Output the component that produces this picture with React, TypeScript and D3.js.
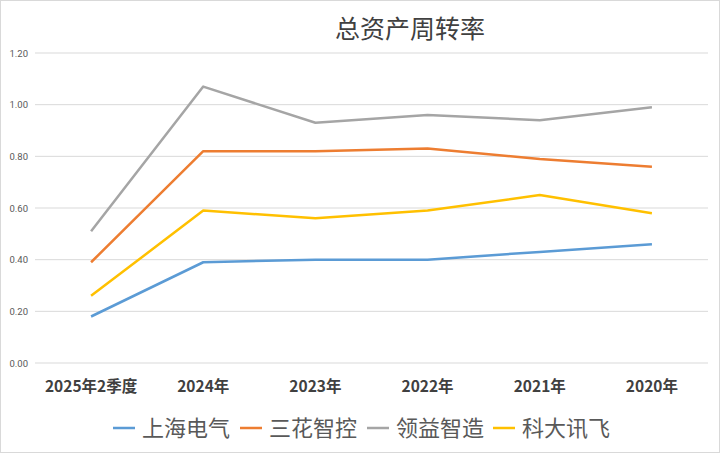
import React, { useEffect, useRef } from 'react';
import * as d3 from 'd3';

const categories = ['2025年2季度', '2024年', '2023年', '2022年', '2021年', '2020年'];
const seriesNames = ['上海电气', '三花智控', '领益智造', '科大讯飞'];
const shanghaiElectric = [0.18, 0.39, 0.40, 0.40, 0.43, 0.46];
const sanhua = [0.39, 0.82, 0.82, 0.83, 0.79, 0.76];
const lingyi = [0.51, 1.07, 0.93, 0.96, 0.94, 0.99];
const iflytek = [0.26, 0.59, 0.56, 0.59, 0.65, 0.58];
const yTicks = [0, 0.2, 0.4, 0.6, 0.8, 1.0, 1.2];
const colors = ['#5B9BD5', '#ED7D31', '#A5A5A5', '#FFC000'];

const W = 720;
const H = 453;

export default function App() {
  const svgRef = useRef<SVGSVGElement>(null);

  useEffect(() => {
    document.body.style.margin = '0';
    if (!svgRef.current) return;
    const svg = d3.select(svgRef.current);
    svg.selectAll('*').remove();

    const margin = { top: 53, right: 12, bottom: 90, left: 35 };
    const innerW = W - margin.left - margin.right;
    const innerH = H - margin.top - margin.bottom;

    svg.append('rect')
      .attr('x', 0.5).attr('y', 0.5)
      .attr('width', W - 1).attr('height', H - 1)
      .attr('fill', '#fff').attr('stroke', '#d9d9d9');

    svg.append('text')
      .attr('x', 410).attr('y', 38)
      .attr('text-anchor', 'middle')
      .attr('font-family', '"Noto Sans CJK SC", sans-serif')
      .attr('font-size', 25)
      .attr('fill', '#404040')
      .text('总资产周转率');

    const g = svg.append('g').attr('transform', `translate(${margin.left},${margin.top})`);

    const x = d3.scaleBand<string>().domain(categories).range([0, innerW]);
    const y = d3.scaleLinear().domain([0, 1.2]).range([innerH, 0]);

    // gridlines
    g.selectAll('.grid')
      .data(yTicks)
      .enter()
      .append('line')
      .attr('x1', 0).attr('x2', innerW)
      .attr('y1', d => y(d)).attr('y2', d => y(d))
      .attr('stroke', '#d9d9d9').attr('stroke-width', 1);

    // y labels
    g.selectAll('.ylab')
      .data(yTicks)
      .enter()
      .append('text')
      .attr('x', -7)
      .attr('y', d => y(d) + 3.5)
      .attr('text-anchor', 'end')
      .attr('font-family', 'Roboto, "Noto Sans", sans-serif')
      .attr('font-size', 9.5)
      .attr('fill', '#595959')
      .text(d => d3.format('.2f')(d));

    // x labels
    g.selectAll('.xlab')
      .data(categories)
      .enter()
      .append('text')
      .attr('x', d => (x(d) || 0) + x.bandwidth() / 2)
      .attr('y', innerH + 29)
      .attr('text-anchor', 'middle')
      .attr('font-family', '"Noto Sans CJK SC", sans-serif')
      .attr('font-weight', 'bold')
      .attr('font-size', 15.5)
      .attr('fill', '#404040')
      .text(d => d);

    const allSeries = [shanghaiElectric, sanhua, lingyi, iflytek];
    const line = d3.line<number>()
      .x((_, i) => (x(categories[i]) || 0) + x.bandwidth() / 2)
      .y(d => y(d));

    g.selectAll('.series')
      .data(allSeries)
      .enter()
      .append('path')
      .attr('d', d => line(d))
      .attr('fill', 'none')
      .attr('stroke', (_, i) => colors[i])
      .attr('stroke-width', 2.5)
      .attr('stroke-linejoin', 'round');

    // legend
    const legendX = [113, 240, 367, 493];
    const legend = svg.append('g');
    seriesNames.forEach((name, i) => {
      legend.append('line')
        .attr('x1', legendX[i]).attr('x2', legendX[i] + 22)
        .attr('y1', 428).attr('y2', 428)
        .attr('stroke', colors[i]).attr('stroke-width', 2.5);
      legend.append('text')
        .attr('x', legendX[i] + 29)
        .attr('y', 436)
        .attr('font-family', '"Noto Sans CJK SC", sans-serif')
        .attr('font-size', 22)
        .attr('fill', '#595959')
        .text(name);
    });
  }, []);

  return <svg ref={svgRef} width={W} height={H} style={{ display: 'block' }} />;
}
